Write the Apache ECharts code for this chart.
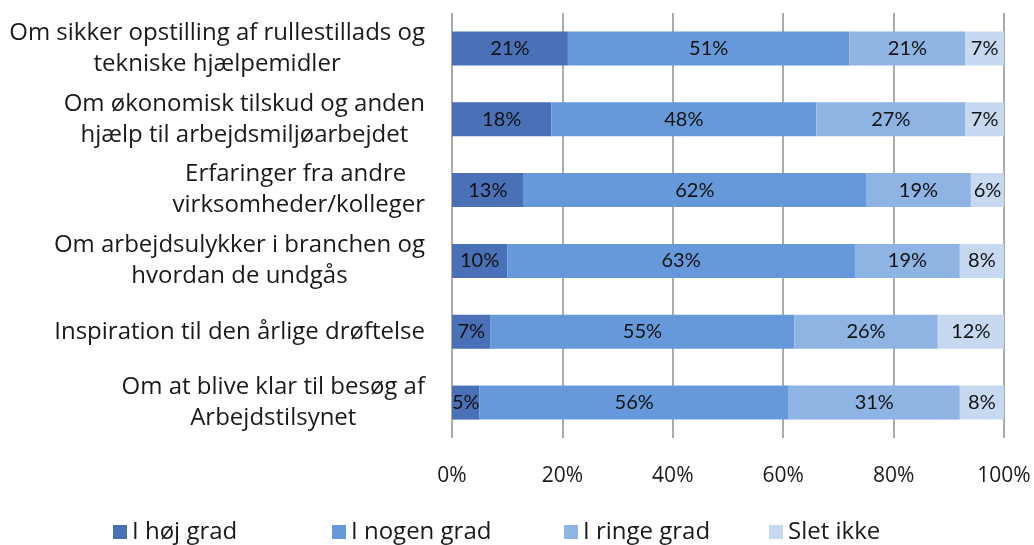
<!DOCTYPE html>
<html>
<head>
<meta charset="utf-8">
<script src="https://cdn.jsdelivr.net/npm/echarts@6/dist/echarts.min.js"></script>
<style>html,body{margin:0;padding:0;background:#fff;}#c{width:1034px;height:545px;}</style>
</head>
<body>
<div id="c"></div>
<script>
const categories = [
  "Om sikker opstilling af rullestillads og\ntekniske hjælpemidler",
  "Om økonomisk tilskud og anden\nhjælp til arbejdsmiljøarbejdet",
  "Erfaringer fra andre \nvirksomheder/kolleger",
  "Om arbejdsulykker i branchen og\nhvordan de undgås",
  "Inspiration til den årlige drøftelse",
  "Om at blive klar til besøg af\nArbejdstilsynet"
];
const seriesNames = ["I høj grad", "I nogen grad", "I ringe grad", "Slet ikke"];
const hoejGrad = [21, 18, 13, 10, 7, 5];
const nogenGrad = [51, 48, 62, 63, 55, 56];
const ringeGrad = [21, 27, 19, 19, 26, 31];
const sletIkke = [7, 7, 6, 8, 12, 8];
const xTicks = [0, 20, 40, 60, 80, 100];

const colors = ["#4a71b7", "#6699d9", "#8eb4e3", "#c6d9f1"];
const values = [hoejGrad, nogenGrad, ringeGrad, sletIkke];
const FONT = "Open Sans";

const chart = echarts.init(document.getElementById('c'), null, {renderer: 'canvas'});
const legendLefts = [108, 327, 559, 764];
chart.setOption({
  animation: false,
  textStyle: {fontFamily: FONT},
  grid: {left: 452, right: 30, top: 13, bottom: 107, containLabel: false},
  xAxis: {
    type: 'value', min: 0, max: 100, interval: 20,
    axisLine: {show: false}, axisTick: {show: false},
    splitLine: {show: true, lineStyle: {color: '#8f8f8f', width: 1.5}},
    axisLabel: {formatter: v => v + '%', fontSize: 21, color: '#1a1a1a', margin: 28, fontFamily: FONT}
  },
  yAxis: {
    type: 'category', data: categories, inverse: true,
    axisLine: {show: false}, axisTick: {show: false},
    axisLabel: {
      margin: 27, align: 'right', fontFamily: FONT,
      formatter: v => v.split('\n').map(s => '{c|' + s + '}').join('\n'),
      rich: {c: {fontSize: 24, color: '#1a1a1a', align: 'center', lineHeight: 31, fontFamily: FONT}}
    }
  },
  legend: seriesNames.map((n, i) => ({
    data: [n], left: legendLefts[i], top: 515,
    icon: 'rect', itemWidth: 14, itemHeight: 14, itemGap: 6,
    textStyle: {fontSize: 24, color: '#1a1a1a', fontFamily: FONT}
  })),
  series: seriesNames.map((n, i) => ({
    name: n, type: 'bar', stack: 'total', barWidth: '48%',
    itemStyle: {color: colors[i]},
    data: values[i],
    label: {show: true, position: 'inside', formatter: p => p.value + '%', fontSize: 20, color: '#111', fontFamily: "Lato"}
  }))
});
</script>
</body>
</html>
